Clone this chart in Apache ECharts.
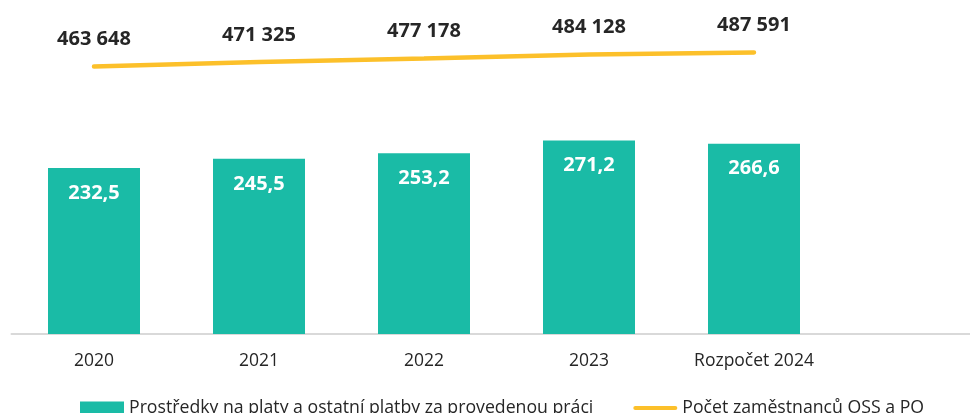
<!DOCTYPE html>
<html>
<head>
<meta charset="utf-8">
<script src="https://cdn.jsdelivr.net/npm/echarts@6/dist/echarts.min.js"></script>
<style>
  html, body { margin: 0; padding: 0; background: #fff; }
  #chart { width: 970px; height: 413px; }
</style>
</head>
<body>
<div id="chart"></div>
<script>
// kategorie (posledni je prazdna, graf je vpravo oriznuty)
const categories = ['2020', '2021', '2022', '2023', 'Rozpočet 2024', ''];
// mld. Kc
const wages = [232.5, 245.5, 253.2, 271.2, 266.6];
// pocet zamestnancu
const employees = [463648, 471325, 477178, 484128, 487591];

const barName = 'Prostředky na platy a ostatní platby za provedenou práci';
const lineName = 'Počet zaměstnanců OSS a PO';

const fontFamily = '"Open Sans", sans-serif';

let chart = echarts.init(document.getElementById('chart'));
let option = {
  animation: false,
  grid: {
    left: 11.5,
    width: 990,
    top: 20,
    bottom: 79,
    outerBoundsMode: 'none'
  },
  legend: {
    left: 75,
    top: 394,
    itemWidth: 44,
    itemHeight: 13,
    itemGap: 40,
    textStyle: {
      fontFamily: fontFamily,
      fontSize: 17.7,
      color: '#262626',
      lineHeight: 16
    },
    data: [
      { name: barName, icon: 'rect' },
      { name: lineName, icon: 'path://M2,0 L42,0 A2,2 0 0 1 42,4 L2,4 A2,2 0 0 1 2,0 Z' }
    ]
  },
  xAxis: {
    type: 'category',
    data: categories,
    axisLine: { lineStyle: { color: '#d9d9d9', width: 2 } },
    axisTick: { show: false },
    axisLabel: {
      margin: 18,
      fontFamily: fontFamily,
      fontSize: 17.5,
      color: '#262626'
    }
  },
  yAxis: [
    { type: 'value', min: 0, max: 440, show: false, splitLine: { show: false } },
    { type: 'value', min: 6000, max: 543000, show: false, splitLine: { show: false } }
  ],
  series: [
    {
      name: barName,
      type: 'bar',
      data: wages,
      barWidth: 92,
      itemStyle: { color: '#1abba6' },
      label: {
        show: true,
        position: 'insideTop',
        distance: 15,
        fontFamily: fontFamily,
        fontWeight: 'bold',
        fontSize: 20,
        color: '#fff',
        formatter: p => p.value.toFixed(1).replace('.', ',')
      }
    },
    {
      name: lineName,
      type: 'line',
      yAxisIndex: 1,
      data: employees,
      symbol: 'circle',
      symbolSize: 0,
      lineStyle: { color: '#fcc02a', width: 4.5, cap: 'round' },
      itemStyle: { color: '#fcc02a' },
      label: {
        show: true,
        position: 'top',
        distance: 17,
        fontFamily: fontFamily,
        fontWeight: 'bold',
        fontSize: 20,
        color: '#262626',
        formatter: p => p.value.toString().replace(/\B(?=(\d{3})+(?!\d))/g, ' ')
      }
    }
  ]
};
chart.setOption(option);
</script>
</body>
</html>
